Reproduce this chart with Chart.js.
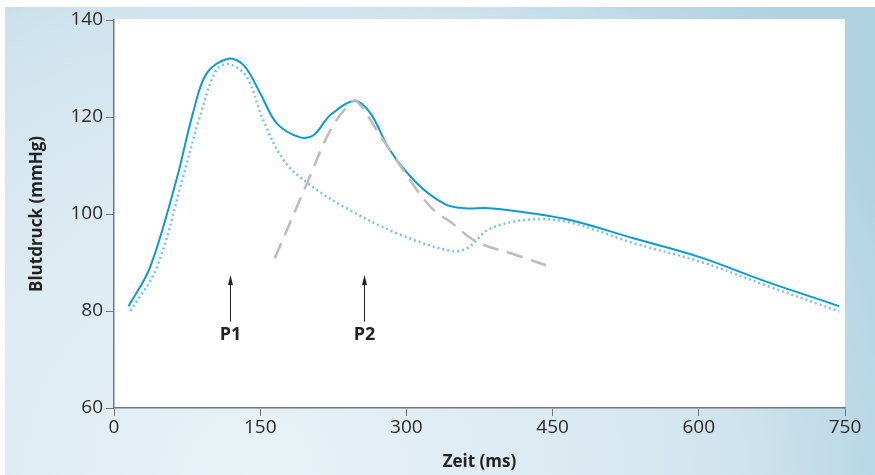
<!DOCTYPE html>
<html>
<head>
<meta charset="utf-8">
<script src="https://cdn.jsdelivr.net/npm/chart.js@4.4.1/dist/chart.umd.min.js"></script>
<style>
  html, body { margin: 0; padding: 0; background: #fff; }
  canvas { display: block; }
</style>
</head>
<body>
<canvas id="pulseChart" width="875" height="475"></canvas>
<script>
// measured pulse wave (solid)
const timeMeasured = [15, 37, 64, 81, 95, 117, 133, 150, 167, 191, 205, 222, 247, 263, 283, 311, 340, 360, 385, 430, 471, 533, 601, 670, 744];
const pressureMeasured = [81, 89, 107, 120.8, 129, 132, 130.7, 124.9, 118.7, 115.8, 116.3, 120.4, 123.3, 120.8, 113.2, 106.3, 102, 101.2, 101.2, 100.1, 98.6, 95, 91.1, 86, 81];

// forward wave (dotted)
const timeForward = [17, 44, 70, 88, 105, 118, 136, 153, 174, 201, 242, 293, 345, 362, 386, 430, 471, 533, 601, 670, 744];
const pressureForward = [80, 89, 107, 120, 129.7, 130.9, 128.3, 119.4, 111.1, 106, 100.8, 95.8, 92.4, 92.9, 97, 98.9, 98.1, 94, 90.2, 85.2, 79.9];

// reflected wave (dashed)
const timeReflected = [165, 198, 222, 242, 249, 276, 311, 328, 345, 372, 413, 451];
const pressureReflected = [90.9, 106.3, 117.3, 122.8, 123.3, 115.3, 104.9, 100.8, 98.4, 94.3, 91.5, 88.9];

// arrow markers
const markerTimes = [119, 257];
const markerLabels = ["P1", "P2"];

const xTicks = [0, 150, 300, 450, 600, 750];
const yTicks = [60, 80, 100, 120, 140];

const toPoints = (xs, ys) => xs.map((x, i) => ({ x, y: ys[i] }));

const backgroundPlugin = {
  id: "panelBackground",
  beforeDraw(chart) {
    const { ctx, chartArea } = chart;
    ctx.save();
    const g = ctx.createRadialGradient(250, 475, 0, 250, 475, 700);
    g.addColorStop(0, "#e9f2f7");
    g.addColorStop(0.5, "#dae9f1");
    g.addColorStop(0.7, "#cfe3ee");
    g.addColorStop(0.9, "#b9d7e6");
    g.addColorStop(1, "#b1d2e3");
    ctx.fillStyle = g;
    ctx.fillRect(5, 7, 870, 468);
    ctx.fillStyle = "#fff";
    ctx.fillRect(chartArea.left, chartArea.top - 1, chartArea.right - chartArea.left, chartArea.bottom - chartArea.top + 1);
    ctx.restore();
  }
};

const arrowPlugin = {
  id: "arrows",
  afterDatasetsDraw(chart) {
    const { ctx, scales } = chart;
    ctx.save();
    markerTimes.forEach((t, i) => {
      const x = Math.round(scales.x.getPixelForValue(t)) + 0.5;
      const yTip = scales.y.getPixelForValue(87.4);
      const yBase = scales.y.getPixelForValue(77.8);
      ctx.strokeStyle = "#222";
      ctx.lineWidth = 1;
      ctx.beginPath();
      ctx.moveTo(x, yBase);
      ctx.lineTo(x, yTip + 4);
      ctx.stroke();
      ctx.fillStyle = "#222";
      ctx.beginPath();
      ctx.moveTo(x, yTip);
      ctx.lineTo(x - 2.5, yTip + 10);
      ctx.lineTo(x + 2.5, yTip + 10);
      ctx.closePath();
      ctx.fill();
      ctx.font = "bold 18px 'Open Sans'";
      ctx.textAlign = "center";
      ctx.textBaseline = "middle";
      ctx.fillText(markerLabels[i], x, scales.y.getPixelForValue(75.1));
    });
    ctx.restore();
  }
};

new Chart(document.getElementById("pulseChart"), {
  type: "line",
  data: {
    datasets: [
      {
        data: toPoints(timeForward, pressureForward),
        borderColor: "#79c3e5",
        borderWidth: 2.5,
        borderDash: [2, 3],
        pointRadius: 0,
        tension: 0.35
      },
      {
        data: toPoints(timeReflected, pressureReflected),
        borderColor: "#bcbcbc",
        borderWidth: 2.5,
        borderDash: [16, 9],
        pointRadius: 0,
        tension: 0.35
      },
      {
        data: toPoints(timeMeasured, pressureMeasured),
        borderColor: "#0a9bd6",
        borderWidth: 2,
        pointRadius: 0,
        tension: 0.35
      }
    ]
  },
  options: {
    responsive: false,
    animation: false,
    devicePixelRatio: 1,
    layout: { padding: { top: 20, right: 30, left: 0, bottom: 0 } },
    plugins: { legend: { display: false }, tooltip: { enabled: false } },
    scales: {
      x: {
        type: "linear",
        min: 0,
        max: 750,
        afterBuildTicks: scale => { scale.ticks = xTicks.map(v => ({ value: v })); },
        afterFit: scale => { scale.height = 67; },
        grid: { drawOnChartArea: false, color: "#777", tickLength: 8 },
        border: { color: "#777", width: 1.5 },
        ticks: { color: "#2a2a2a", padding: 0, font: { family: "'Open Sans'", size: 19 } },
        title: {
          display: true,
          text: "Zeit (ms)",
          color: "#222",
          padding: { bottom: 3 },
          font: { family: "'Open Sans'", size: 17, weight: "bold" }
        }
      },
      y: {
        min: 60,
        max: 140,
        afterBuildTicks: scale => { scale.ticks = yTicks.map(v => ({ value: v })); },
        afterFit: scale => { scale.width = 114; },
        grid: { drawOnChartArea: false, color: "#777", tickLength: 8 },
        border: { color: "#777", width: 1.5 },
        ticks: { color: "#2a2a2a", padding: 3, font: { family: "'Open Sans'", size: 19 } },
        title: {
          display: true,
          text: "Blutdruck (mmHg)",
          color: "#222",
          padding: { top: 27 },
          font: { family: "'Open Sans'", size: 17, weight: "bold" }
        }
      }
    }
  },
  plugins: [backgroundPlugin, arrowPlugin]
});
</script>
</body>
</html>
